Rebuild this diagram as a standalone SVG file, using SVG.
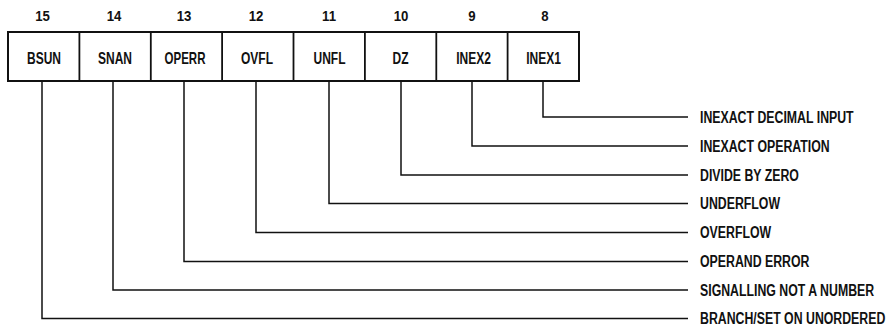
<svg xmlns="http://www.w3.org/2000/svg" width="887" height="326" viewBox="0 0 887 326">
<style>
text{font-family:"Liberation Sans","DejaVu Sans",sans-serif;fill:#111;font-weight:bold;}
.num{font-size:15px;text-anchor:middle;}
.cell{font-size:16px;text-anchor:middle;}
.lab{font-size:16px;}
.box{fill:#fff;stroke:#111;stroke-width:2;}
.div{stroke:#111;stroke-width:1.8;}
.conn{fill:none;stroke:#111;stroke-width:1.5;}
</style>
<rect width="887" height="326" fill="#fff"/>
<g id="register">
<rect class="box" x="8" y="32" width="571" height="49"/>
<line class="div" x1="79.4" y1="32" x2="79.4" y2="81"/>
<line class="div" x1="150.8" y1="32" x2="150.8" y2="81"/>
<line class="div" x1="222.1" y1="32" x2="222.1" y2="81"/>
<line class="div" x1="293.5" y1="32" x2="293.5" y2="81"/>
<line class="div" x1="364.9" y1="32" x2="364.9" y2="81"/>
<line class="div" x1="436.3" y1="32" x2="436.3" y2="81"/>
<line class="div" x1="507.6" y1="32" x2="507.6" y2="81"/>
</g>
<g id="bit15"><text class="num" transform="translate(42.5,21) scale(0.88,1)">15</text><text class="cell" transform="translate(44,64) scale(0.75,1)">BSUN</text></g>
<g id="bit14"><text class="num" transform="translate(114,21) scale(0.88,1)">14</text><text class="cell" transform="translate(115,64) scale(0.75,1)">SNAN</text></g>
<g id="bit13"><text class="num" transform="translate(184,21) scale(0.88,1)">13</text><text class="cell" transform="translate(185,64) scale(0.72,1)">OPERR</text></g>
<g id="bit12"><text class="num" transform="translate(256,21) scale(0.88,1)">12</text><text class="cell" transform="translate(257,64) scale(0.75,1)">OVFL</text></g>
<g id="bit11"><text class="num" transform="translate(329,21) scale(0.88,1)">11</text><text class="cell" transform="translate(329.5,64) scale(0.75,1)">UNFL</text></g>
<g id="bit10"><text class="num" transform="translate(401,21) scale(0.88,1)">10</text><text class="cell" transform="translate(400.5,64) scale(0.75,1)">DZ</text></g>
<g id="bit9"><text class="num" transform="translate(472,21) scale(0.88,1)">9</text><text class="cell" transform="translate(473.5,64) scale(0.75,1)">INEX2</text></g>
<g id="bit8"><text class="num" transform="translate(545,21) scale(0.88,1)">8</text><text class="cell" transform="translate(543.5,64) scale(0.75,1)">INEX1</text></g>
<g id="connectors">
<path class="conn" d="M543,81 V117 H688"/>
<path class="conn" d="M472,81 V146 H688"/>
<path class="conn" d="M401,81 V175 H688"/>
<path class="conn" d="M329,81 V203.5 H688"/>
<path class="conn" d="M256,81 V232.5 H688"/>
<path class="conn" d="M184,81 V261.5 H688"/>
<path class="conn" d="M113,81 V290 H688"/>
<path class="conn" d="M42,81 V318.5 H688"/>
</g>
<g id="labels">
<text class="lab" transform="translate(700,122.7) scale(0.77,1)">INEXACT DECIMAL INPUT</text>
<text class="lab" transform="translate(700,151.7) scale(0.77,1)">INEXACT OPERATION</text>
<text class="lab" transform="translate(700,180.7) scale(0.77,1)">DIVIDE BY ZERO</text>
<text class="lab" transform="translate(700,209.2) scale(0.77,1)">UNDERFLOW</text>
<text class="lab" transform="translate(700,238.2) scale(0.77,1)">OVERFLOW</text>
<text class="lab" transform="translate(700,267.2) scale(0.77,1)">OPERAND ERROR</text>
<text class="lab" transform="translate(700,295.7) scale(0.77,1)">SIGNALLING NOT A NUMBER</text>
<text class="lab" transform="translate(700,324.2) scale(0.77,1)">BRANCH/SET ON UNORDERED</text>
</g>
</svg>
